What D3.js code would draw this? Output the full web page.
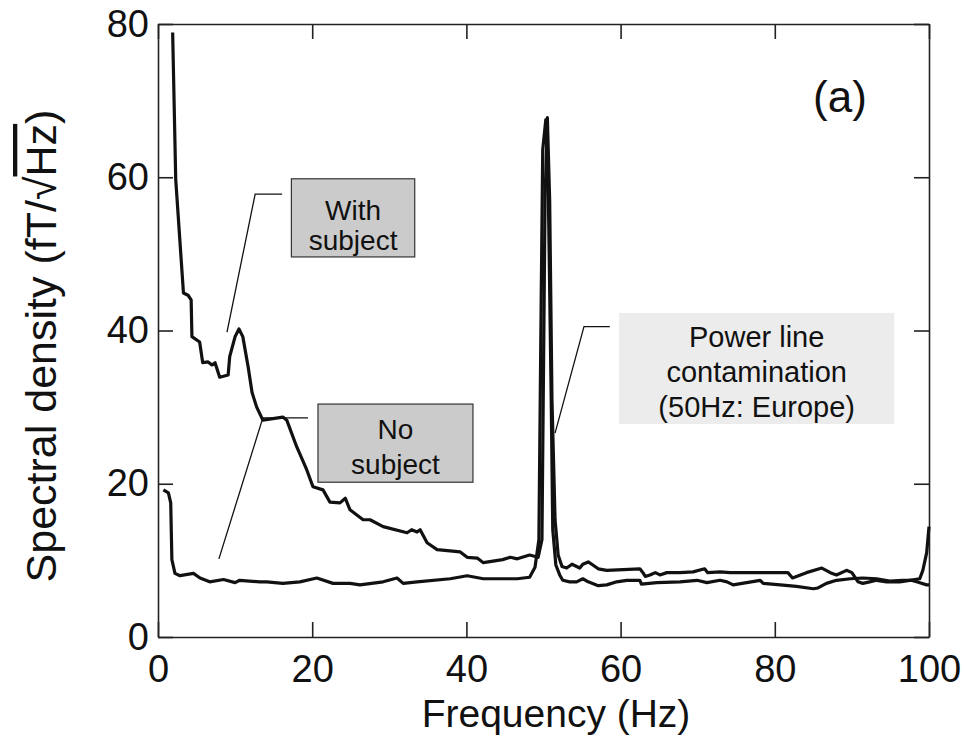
<!DOCTYPE html>
<html>
<head>
<meta charset="utf-8">
<script src="https://cdn.jsdelivr.net/npm/d3@7"></script>
<style>
  body { margin: 0; background: #fff; }
  text { font-family: "Liberation Sans", Arial, sans-serif; fill: #111; }
</style>
</head>
<body>
<div id="chart"></div>
<script>

// frequency (Hz), spectral density (fT/sqrt(Hz))
var withSubject = [
  [1.9,78.9],[2.3,59.7],[3.3,44.9],[3.9,44.6],[4.3,44.0],[4.4,39.2],[5.4,38.5],[5.8,35.8],
  [6.5,35.9],[7.0,35.5],[7.4,35.8],[8.0,33.9],[9.1,34.2],[9.3,36.6],[10.0,39.2],[10.5,40.2],
  [11.0,39.2],[11.7,35.2],[12.2,31.9],[12.8,30.0],[13.6,28.3],[16.2,28.7],[16.7,28.3],[18.0,24.8],
  [19.3,21.8],[20.1,19.6],[21.4,19.2],[22.3,17.6],[23.6,17.5],[24.3,18.1],[24.9,16.6],[26.6,15.3],
  [27.5,15.3],[29.2,14.4],[32.3,13.6],[32.9,14.0],[33.6,13.7],[34.0,14.0],[34.9,12.3],[36.2,11.4],
  [39.2,11.1],[40.1,10.4],[41.4,10.3],[42.2,9.7],[44.7,10.1],[45.7,10.4],[46.6,10.2],[48.2,10.7],
  [49.3,10.4],[49.8,12.7],[50.2,57.0],[50.5,67.8],[50.8,57.0],[51.1,30.9],[51.5,15.3],[51.9,10.7],
  [52.4,9.2],[53.0,9.0],[53.7,9.5],[54.3,9.2],[54.7,9.0],[55.1,9.5],[55.8,9.8],[56.4,9.4],
  [57.1,8.9],[58.2,8.7],[62.5,8.9],[62.9,8.4],[63.2,7.9],[63.8,8.1],[64.5,8.4],[65.1,8.1],
  [66.0,8.4],[67.7,8.4],[69.4,8.5],[70.9,8.9],[71.3,8.4],[72.9,8.5],[74.2,8.4],[81.7,8.4],
  [82.3,7.7],[84.1,8.4],[86.1,9.0],[87.2,8.4],[88.0,8.1],[89.3,8.7],[90.0,8.4],[90.8,7.2],
  [91.4,7.0],[92.3,7.2],[93.2,7.4],[94.5,7.2],[96.2,7.2],[97.5,7.4],[98.8,7.6],[99.2,8.7],
  [99.7,11.0],[100,14.4]
];

var noSubject = [
  [0.7,19.2],[1.35,18.8],[1.65,17.5],[1.8,10.1],[2.2,8.3],[2.85,8.0],[4.6,8.3],[5.45,7.7],
  [6.7,7.2],[8.5,7.5],[10.0,7.1],[10.6,7.4],[13.2,7.2],[14.1,7.2],[16.2,7.0],[18.4,7.2],
  [20.6,7.7],[22.7,7.0],[24.9,7.0],[26.2,6.8],[29.2,7.2],[31.0,7.7],[31.8,7.0],[33.6,7.2],
  [37.9,7.6],[40.1,8.0],[42.2,7.6],[46.6,7.6],[48.2,7.8],[48.9,9.1],[49.4,12.7],[49.7,44.0],
  [49.9,63.6],[50.3,67.5],[50.6,59.7],[51.0,31.0],[51.2,14.0],[51.6,9.4],[52.1,8.1],[52.5,7.4],
  [53.4,7.2],[54.3,7.2],[55.1,7.6],[55.8,7.2],[57.1,6.7],[58.2,6.8],[59.5,7.2],[60.8,7.4],
  [62.5,7.4],[62.7,6.9],[64.7,7.1],[67.7,7.2],[69.9,7.4],[71.2,7.1],[72.9,7.4],[73.8,7.2],
  [74.6,6.8],[78.1,7.4],[78.5,7.0],[80.7,6.8],[82.8,6.6],[85.0,6.3],[85.6,6.4],[86.7,7.0],
  [88.0,7.4],[89.8,7.6],[91.4,7.7],[93.2,7.6],[94.9,7.3],[96.6,7.4],[97.7,7.4],[98.4,7.2],
  [99.7,6.8],[100,6.8]
];

var xTicks = [0, 20, 40, 60, 80, 100];
var yTicks = [0, 20, 40, 60, 80];

// annotation boxes, in data units
var notes = [
  { lines: ["With", "subject"], box: [17.3, 33.3, 59.8, 49.6], base: [54.4, 50.5],
    leader: [[16.1,57.8],[12.6,57.8],[8.95,39.8]], fill: "#cbcbcb", border: true, size: 28 },
  { lines: ["No", "subject"], box: [20.75, 40.85, 30.4, 20.2], base: [25.85, 21.3],
    leader: [[19.45,28.6],[13.6,28.6],[7.9,10.2]], fill: "#cbcbcb", border: true, size: 28 },
  { lines: ["Power line", "contamination", "(50Hz: Europe)"], box: [59.8, 95.5, 42.3, 27.8], base: [37.9, 33.3, 28.7],
    leader: [[58.6,40.5],[55.25,40.5],[51.5,26.6]], fill: "#ececec", border: false, size: 29 }
];

var W = 964, H = 750;
var margin = { top: 24, right: 35, bottom: 113, left: 158 };

var svg = d3.select("#chart").append("svg")
    .attr("width", W)
    .attr("height", H);

var x = d3.scaleLinear().domain([0, 100]).range([margin.left, W - margin.right]);
var y = d3.scaleLinear().domain([0, 80]).range([H - margin.bottom, margin.top]);

// axes, ticks pointing inwards on all four sides
var xb = svg.append("g")
    .attr("transform", "translate(0," + y(0) + ")")
    .call(d3.axisBottom(x).tickValues(xTicks).tickSize(-15).tickSizeOuter(0).tickPadding(18));
var xt = svg.append("g")
    .attr("transform", "translate(0," + y(80) + ")")
    .call(d3.axisTop(x).tickValues(xTicks).tickSize(-15).tickSizeOuter(0).tickFormat(""));
var yl = svg.append("g")
    .attr("transform", "translate(" + x(0) + ",0)")
    .call(d3.axisLeft(y).tickValues(yTicks).tickSize(-15).tickSizeOuter(0).tickPadding(9));
var yr = svg.append("g")
    .attr("transform", "translate(" + x(100) + ",0)")
    .call(d3.axisRight(y).tickValues(yTicks).tickSize(-15).tickSizeOuter(0).tickFormat(""));

[xb, xt, yl, yr].forEach(function(g) {
  g.selectAll("path, line").attr("stroke", "#222").attr("stroke-width", 1.6);
  g.selectAll("text").style("font-size", "38px").attr("fill", "#111");
});

// curves
var line = d3.line()
    .x(function(d) { return x(d[0]); })
    .y(function(d) { return y(d[1]); });

svg.selectAll(".curve")
    .data([noSubject, withSubject])
    .enter().append("path")
    .attr("class", "curve")
    .attr("d", line)
    .attr("fill", "none")
    .attr("stroke", "#111")
    .attr("stroke-width", 3.2)
    .attr("stroke-linejoin", "round");

// annotations
var note = svg.selectAll(".note")
    .data(notes)
    .enter().append("g")
    .attr("class", "note");

note.append("path")
    .attr("d", function(d) { return line(d.leader); })
    .attr("fill", "none")
    .attr("stroke", "#111")
    .attr("stroke-width", 1.3);

note.append("rect")
    .attr("x", function(d) { return x(d.box[0]); })
    .attr("y", function(d) { return y(d.box[2]); })
    .attr("width", function(d) { return x(d.box[1]) - x(d.box[0]); })
    .attr("height", function(d) { return y(d.box[3]) - y(d.box[2]); })
    .attr("fill", function(d) { return d.fill; })
    .attr("stroke", function(d) { return d.border ? "#333" : "none"; })
    .attr("stroke-width", 1.2);

note.each(function(d) {
  var g = d3.select(this);
  var cx = (x(d.box[0]) + x(d.box[1])) / 2;
  d.lines.forEach(function(t, i) {
    g.append("text")
        .attr("x", cx)
        .attr("y", y(d.base[i]))
        .attr("text-anchor", "middle")
        .style("font-size", d.size + "px")
        .text(t);
  });
});

// panel label
svg.append("text")
    .attr("x", 840)
    .attr("y", 112)
    .attr("text-anchor", "middle")
    .style("font-size", "44px")
    .text("(a)");

// axis titles
svg.append("text")
    .attr("x", 556)
    .attr("y", 727)
    .attr("text-anchor", "middle")
    .style("font-size", "39px")
    .text("Frequency (Hz)");

var yt = svg.append("text")
    .attr("transform", "translate(56,346) rotate(-90)")
    .attr("text-anchor", "middle")
    .style("font-size", "43px");
yt.append("tspan").text("Spectral density (fT/\u221A");
yt.append("tspan").style("text-decoration", "overline").text("Hz");
yt.append("tspan").text(")");

</script>
</body>
</html>
